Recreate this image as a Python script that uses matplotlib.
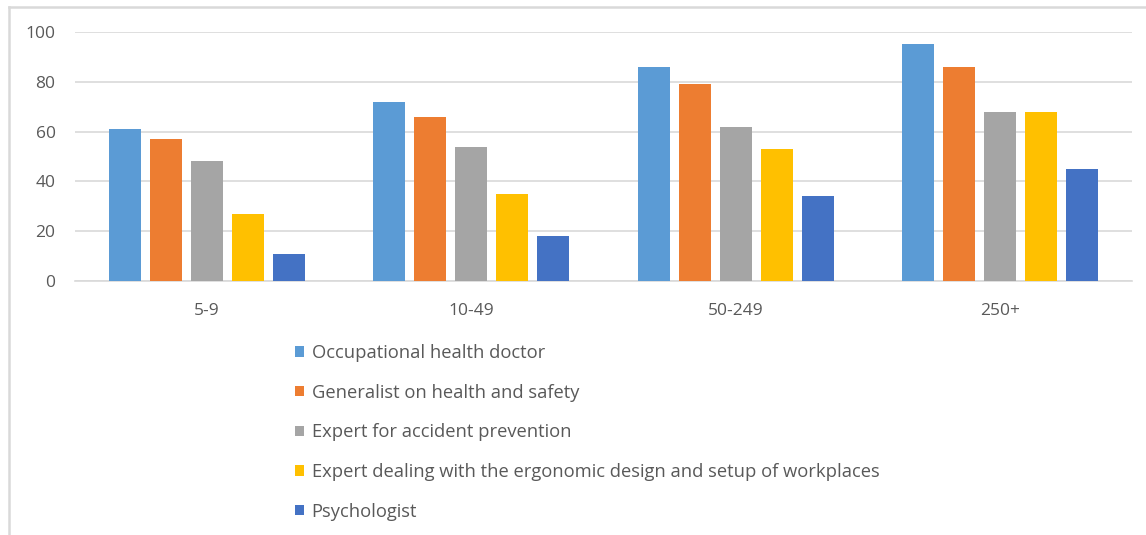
import numpy as np
import matplotlib
matplotlib.use('Agg')
import matplotlib.pyplot as plt
from matplotlib.patches import Patch
from matplotlib.lines import Line2D

# data
sizes = ['5-9', '10-49', '50-249', '250+']
series_names = ['Occupational health doctor',
                'Generalist on health and safety',
                'Expert for accident prevention',
                'Expert dealing with the ergonomic design and setup of workplaces',
                'Psychologist']
health_doctor = [61, 72, 86, 95]
generalist = [57, 66, 79, 86]
accident_prev = [48, 54, 62, 68]
ergonomic = [27, 35, 53, 68]
psychologist = [11, 18, 34, 45]
colors = ['#5b9bd5', '#ed7d31', '#a5a5a5', '#ffc000', '#4472c4']

plt.rcParams['font.family'] = ['Open Sans', 'DejaVu Sans']
txt = '#595959'
grid = '#d9d9d9'

W, H = 1146, 535
fig = plt.figure(figsize=(W/100, H/100), dpi=100)
ax = fig.add_axes([75/W, 1-281/H, (1132-75)/W, (281-32)/H])

all_series = [health_doctor, generalist, accident_prev, ergonomic, psychologist]
x = np.arange(len(sizes))
step = 41/264.
width = 32/264.
for i, vals in enumerate(all_series):
    ax.bar(x + (i-2)*step, vals, width, color=colors[i], zorder=3)

ax.set_xlim(-0.5, 3.5)
ax.set_ylim(0, 100)
ax.set_yticks(range(0, 101, 20))
ax.set_xticks(x)
ax.set_xticklabels(sizes)
ax.yaxis.grid(True, color=grid, linewidth=1.2, zorder=0)
for s in ['top', 'right', 'left']:
    ax.spines[s].set_visible(False)
ax.spines['bottom'].set_color(grid)
ax.spines['bottom'].set_linewidth(1.2)
ax.tick_params(axis='both', length=0, labelsize=12.5, labelcolor=txt)
ax.tick_params(axis='y', pad=14)
ax.tick_params(axis='x', pad=16)

handles = [Patch(facecolor=c) for c in colors]
leg = fig.legend(handles, series_names, loc='upper left',
                 bbox_to_anchor=(295/W, 1-344/H), frameon=False,
                 fontsize=13.2, labelcolor=txt, handlelength=0.5,
                 handleheight=0.5, handletextpad=0.4, labelspacing=1.18,
                 borderpad=0, borderaxespad=0)

# chart-area border (top and left edges visible)
fig.add_artist(Line2D([8.5/W, 1], [1-6.5/H, 1-6.5/H], color=grid, linewidth=1.8))
fig.add_artist(Line2D([8.5/W, 8.5/W], [0, 1-6.5/H], color=grid, linewidth=1.8))

fig.savefig('out.png', dpi=100)
